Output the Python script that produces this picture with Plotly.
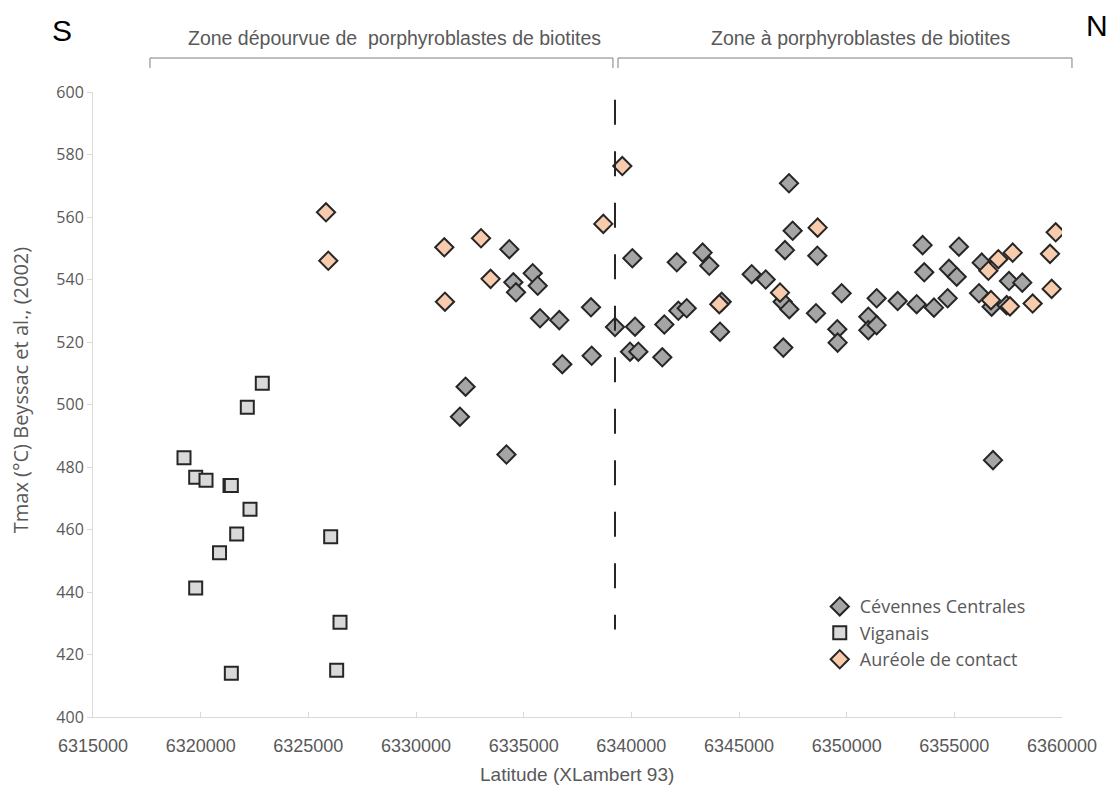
import plotly.graph_objects as go

# Cévennes Centrales
cev_x = [6332040, 6332303, 6334200, 6334333, 6334520, 6334644, 6335420, 6335652, 6335760, 6336655,
         6336794, 6338127, 6338158, 6339241, 6339938, 6340325, 6340047, 6340171, 6341438, 6341532,
         6342110, 6342183, 6342571, 6343310, 6343620, 6344118, 6344196, 6345590, 6346240, 6347026,
         6347057, 6347135, 6347322, 6347336, 6347492, 6348576, 6348637, 6349565, 6349580, 6349765,
         6351006, 6351006, 6351393, 6351393, 6352368, 6353250, 6353528, 6353603, 6354054, 6354690,
         6354752, 6355110, 6355214, 6356146, 6356272, 6356733, 6356796, 6357430, 6357538, 6358156]
cev_y = [496.1, 505.7, 484.0, 549.7, 539.1, 535.9, 542.0, 538.0, 527.6, 527.0,
         512.9, 531.1, 515.6, 524.8, 516.9, 516.9, 546.8, 524.9, 515.1, 525.6,
         545.5, 530.0, 530.8, 548.6, 544.4, 523.3, 532.9, 541.7, 540.0, 532.9,
         518.2, 549.4, 570.8, 530.5, 555.6, 529.2, 547.6, 524.1, 519.8, 535.6,
         528.1, 523.8, 525.4, 534.0, 533.1, 532.1, 551.0, 542.3, 531.0, 534.0,
         543.4, 540.9, 550.5, 535.6, 545.4, 531.3, 482.2, 531.8, 539.5, 539.0]

# Viganais
vig_x = [6322862, 6322166, 6319226, 6319769, 6320248, 6321362, 6321424, 6322291, 6321673, 6326038,
         6320876, 6319769, 6326471, 6326316, 6321424]
vig_y = [506.8, 499.1, 483.0, 476.7, 475.8, 474.1, 474.1, 466.5, 458.6, 457.7,
         452.6, 441.3, 430.3, 415.0, 414.0]

# Auréole de contact
aur_x = [6325820, 6325926, 6331314, 6331345, 6333019, 6333463, 6338699, 6339581, 6344085, 6346904,
         6348652, 6356581, 6356702, 6357043, 6357585, 6357712, 6358637, 6359443, 6359520, 6359707]
aur_y = [561.5, 546.0, 550.3, 532.9, 553.2, 540.2, 557.8, 576.3, 532.1, 535.8,
         556.6, 542.8, 533.4, 546.5, 531.4, 548.6, 532.3, 548.2, 537.0, 555.1]

# limite entre les deux zones (tracée du haut vers le bas)
limite_x = 6339241
limite_y = [597.5, 428]

gris = "#595959"
bord = "#262626"

fig = go.Figure()
fig.add_trace(go.Scatter(x=cev_x, y=cev_y, mode="markers", name="Cévennes Centrales",
                         marker=dict(symbol="diamond", size=14, color="#a5a5a5",
                                     line=dict(color=bord, width=2))))
fig.add_trace(go.Scatter(x=vig_x, y=vig_y, mode="markers", name="Viganais",
                         marker=dict(symbol="square", size=13, color="#d9d9d9",
                                     line=dict(color=bord, width=2))))
fig.add_trace(go.Scatter(x=aur_x, y=aur_y, mode="markers", name="Auréole de contact",
                         marker=dict(symbol="diamond", size=14, color="#f8cbad",
                                     line=dict(color=bord, width=2))))

fig.add_shape(type="line", xref="x", yref="y", x0=limite_x, x1=limite_x,
              y0=limite_y[0], y1=limite_y[1], line=dict(color=bord, width=2, dash="25px,26.5px"))

# accolades du haut
fig.add_shape(type="path", xref="paper", yref="paper",
              path="M 0.0588,1.0384 L 0.0588,1.0544 L 0.5366,1.0544 L 0.5366,1.0384",
              line=dict(color="#7f7f7f", width=1))
fig.add_shape(type="path", xref="paper", yref="paper",
              path="M 0.5418,1.0384 L 0.5418,1.0544 L 1.0103,1.0544 L 1.0103,1.0384",
              line=dict(color="#7f7f7f", width=1))

police = "Liberation Sans, sans-serif"
fig.add_annotation(x=0.3115, y=1.0864, xref="paper", yref="paper", showarrow=False,
                   xanchor="center", yanchor="middle",
                   text="Zone dépourvue de\u00a0 porphyroblastes de biotites",
                   font=dict(family=police, size=19.5, color=gris))
fig.add_annotation(x=0.7925, y=1.0864, xref="paper", yref="paper", showarrow=False,
                   xanchor="center", yanchor="middle",
                   text="Zone à porphyroblastes de biotites",
                   font=dict(family=police, size=19.5, color=gris))
fig.add_annotation(x=-0.032, y=1.0992, xref="paper", yref="paper", showarrow=False,
                   xanchor="center", yanchor="middle",
                   text="S", font=dict(family=police, size=30, color="#000000"))
fig.add_annotation(x=1.036, y=1.1072, xref="paper", yref="paper", showarrow=False,
                   xanchor="center", yanchor="middle",
                   text="N", font=dict(family=police, size=30, color="#000000"))
fig.add_annotation(x=-0.0752, y=0.523, xref="paper", yref="paper", showarrow=False,
                   xanchor="center", yanchor="middle", textangle=-90,
                   text="Tmax (°C) Beyssac et al., (2002)",
                   font=dict(family="Open Sans, sans-serif", size=20, color=gris))
fig.add_annotation(x=0.4995, y=-0.0912, xref="paper", yref="paper", showarrow=False,
                   xanchor="center", yanchor="middle",
                   text="Latitude (XLambert 93)",
                   font=dict(family=police, size=19, color=gris))

fig.update_layout(
    width=1107, height=781,
    margin=dict(l=85, r=53, t=84, b=72),
    plot_bgcolor="white", paper_bgcolor="white",
    font=dict(family=police, color=gris),
    legend=dict(x=0.750, y=0.206, xanchor="left", yanchor="top",
                font=dict(family="Open Sans, sans-serif", size=18, color=gris),
                bgcolor="rgba(0,0,0,0)", tracegroupgap=0, itemwidth=30),
)
fig.update_xaxes(range=[6315000, 6360000], dtick=5000, tickformat="d", automargin=False,
                 showgrid=False, zeroline=False, showline=True, linecolor="#d9d9d9", linewidth=1,
                 ticks="inside", ticklen=5, tickcolor="#d9d9d9", ticklabelstandoff=12,
                 tickfont=dict(family=police, size=18, color=gris))
fig.update_yaxes(range=[400, 600], dtick=20, automargin=False,
                 showgrid=False, zeroline=False, showline=True, linecolor="#d9d9d9", linewidth=1,
                 ticks="outside", ticklen=5, tickcolor="#d9d9d9",
                 tickfont=dict(family="Open Sans, sans-serif", size=16, color=gris))

fig.write_html("out.html")
